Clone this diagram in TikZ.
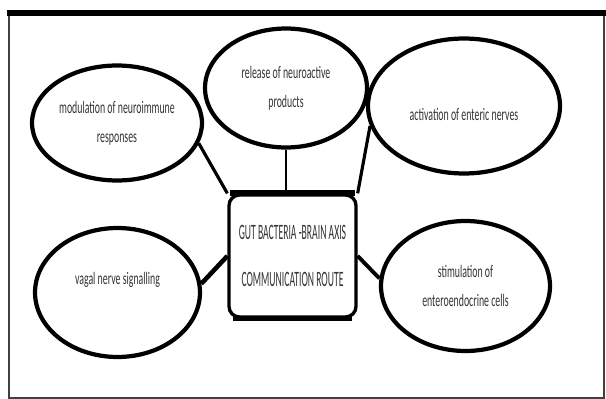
\documentclass[tikz,border=0pt]{standalone}
\usepackage{fontspec}
\setmainfont{Carlito}[FakeStretch=0.56]
\newfontfamily\routefont{Carlito}[FakeStretch=0.44]
\usetikzlibrary{shapes.geometric}

\tikzset{
    bubble/.style={draw, ellipse, line width=2.4pt, align=center, inner sep=0pt,
        font=\fontsize{10}{16.5}\selectfont, text=black!80},
    routebox/.style={draw, rectangle, rounded corners=6pt, line width=1.9pt, align=center,
        inner sep=0pt, minimum width=2.54cm, minimum height=2.44cm,
        font=\routefont\fontsize{12.5}{15}\selectfont, text=black!80},
    link/.style={line width=1.8pt}
}

\begin{document}
\begin{tikzpicture}[x=0.02cm, y=-0.02cm]
    \useasboundingbox (0,0) rectangle (606,399);
    \draw [line width=0.9pt, black!75] (9,13) rectangle (604,398);
    \draw [line width=3.4pt] (7,13) to (606,13);     % heavy top rule
    \node (box) [routebox] at (292.5,256) {GUT BACTERIA -BRAIN AXIS\\[12pt]COMMUNICATION ROUTE};
    \draw [line width=3.4pt] ([xshift=0.06cm]box.north west) to ([xshift=-0.06cm]box.north east);
    \draw [line width=2.8pt] ([xshift=0.12cm]box.south west) to ([xshift=-0.12cm]box.south east);
    \node (modulation) [bubble, minimum width=3.4cm, minimum height=2.3cm] at (117,123) {modulation of neuroimmune\\responses};
    \node (release) [bubble, minimum width=3.24cm, minimum height=2.38cm] at (286,88) {release of neuroactive\\products};
    \node (activation) [bubble, minimum width=3.84cm, minimum height=2.7cm] at (464,106) {\\activation of enteric nerves};
    \node (vagal) [bubble, minimum width=3.3cm, minimum height=2.58cm] at (117.5,292.5) {vagal nerve signalling\\{}};
    \node (stimulation) [bubble, minimum width=3.38cm, minimum height=2.6cm] at (465.5,286) {stimulation of\\enteroendocrine cells};
    \draw [link] (modulation.-14) to (box.north west);
    \draw [link, line width=1.2pt] (release.south) to (release.south |- box.north);
    \draw [link] (activation.192) to (box.north east);
    \draw [link, line width=2.6pt] (vagal.6) to (box.west);
    \draw [link, line width=2.2pt] (box.east) to (stimulation.175);
\end{tikzpicture}
\end{document}
